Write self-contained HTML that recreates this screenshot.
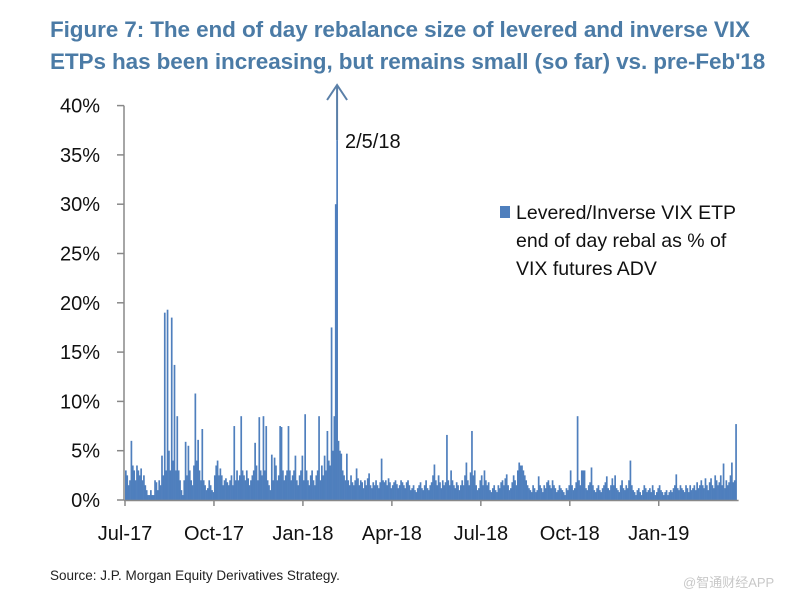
<!DOCTYPE html>
<html><head><meta charset="utf-8"><style>
html,body{margin:0;padding:0;background:#fff;}
body{width:800px;height:602px;overflow:hidden;position:relative;font-family:"Liberation Sans",Arial,sans-serif;}
.t{position:absolute;left:50px;font-weight:bold;font-size:22.5px;color:#4b7ba6;white-space:nowrap;letter-spacing:-0.1px;}
</style></head><body>
<div class="t" style="top:17px">Figure 7: The end of day rebalance size of levered and inverse VIX</div>
<div class="t" style="top:49px">ETPs has been increasing, but remains small (so far) vs. pre-Feb'18</div>
<svg id="chart" width="800" height="602" style="position:absolute;left:0;top:0"></svg>
<div style="position:absolute;left:50px;top:568px;font-size:13.5px;color:#222;">Source: J.P. Morgan Equity Derivatives Strategy.</div>
<div style="position:absolute;left:683px;top:572px;font-size:13px;color:#c8c8c8;font-family:'Liberation Sans','Noto Sans CJK SC',sans-serif;">@智通财经APP</div>
<script>
const values=[
3,2.5,1.5,2,6,3.5,3,2,3.5,3,2.5,3.2,2,2.5,1.5,1,0.5,0.5,1,0.5,
0.5,2,1.8,1,2,1.5,4.5,2.5,19,3,19.3,5,3,18.5,4,13.7,3,8.5,3,2,
1,0.5,2,5.9,2.5,5.5,3,2,1.5,3.5,10.8,4,6.1,3,2,7.2,2,1.5,1,1.2,
2,1.5,1,0.8,2.5,3.5,4,2.5,3.2,2.5,1.5,2,2.2,1.8,1.5,2,2.5,1.5,7.5,2,
3,2,2.5,8.5,3,2.5,2,3,2.2,1.5,2,2.5,3,5.8,3.5,2,8.4,3,2.5,8.5,
3,7.5,2,1.5,1,4.6,2,4.3,3.5,2,2.5,7.5,7.4,3,2,2.5,3,7.5,3,2,
2.5,3,4.5,2,1.5,2.5,3,4.5,2,8.7,3,2,1.5,2.5,3,2,1.5,2.5,3,8.5,
2,3.5,2.5,4.5,3,7,4,3.5,17.5,5,8.5,30,36.5,6,5,4.7,3,2.5,2,4.7,
2,1.5,2.5,1.8,1.5,2,3.2,2.2,1.5,2,1.8,1.2,2,1.5,2.2,2.7,1.5,1.2,1.8,1.5,
2,1.5,1.2,1.8,4.2,2,1.8,2,1.5,2.2,1.8,1.2,1.5,1.8,2,1.6,1.2,1.5,2,1.8,
1.5,1.2,1.8,2,1.5,1,1.2,1.5,1,0.8,1.2,1.5,1.8,1.2,1,1.5,2,1.2,1,1.5,
1.8,2.5,3.6,2,1.5,2.5,1.8,1.2,2,1.5,1.8,6.6,2,1.5,3,2,1.5,1.2,1.8,1.5,
1,1.5,2,1.5,2.5,3.8,2,1.5,2.8,7,2.5,3,1.5,1,1.2,2,2.5,1.5,3,2,
1.5,1.8,1,0.8,1.2,1.5,1,0.8,1.5,1.2,1.8,2,1.5,2.2,2.6,1.5,1,1.2,1.8,2.5,
2,1.5,3,3.8,3.5,3.5,3,2.5,2,1.5,1.2,1,0.8,1.5,1.2,0.8,1,2.4,1.5,1.2,
0.8,1.5,1.2,1.8,2,1.5,1.2,2,1.5,1.2,0.8,1,1.5,1.2,1,0.8,0.5,1.2,1,1.5,
3,1.5,1,1.2,1.8,8.5,2,1.5,3,3,3,1.2,1,1.5,1.8,3.3,1.5,1,0.8,1.2,
1.5,1,0.8,1.2,1.5,1.8,2.4,1.2,1,1.5,2.2,1.5,2.5,1.2,1,0.8,1.5,2,1.2,1,
1.5,1.2,2,4,1.5,1,0.8,0.5,1,1.2,0.8,0.5,1,1.5,1.2,0.8,1,1.2,0.8,1.5,
1,0.5,0.8,1.2,1.5,1,0.8,0.5,0.8,1,0.5,0.8,1,0.8,1.2,1.5,2.6,1.2,1,1.5,
1.2,1,0.8,1.5,1.2,0.8,1.5,1,1.2,1.5,1,1.8,1.2,1.5,2,1.5,1.2,2.2,1.5,1,
1.8,2.2,1.5,1.2,2.5,2,1.5,1.8,2.5,1.5,3.7,1.2,2,1.5,1.8,2.5,3.8,1.8,2,7.7];
const yTicks=[0,5,10,15,20,25,30,35,40];
const xLabels=["Jul-17","Oct-17","Jan-18","Apr-18","Jul-18","Oct-18","Jan-19"];
const xLabelIdx=[0,64,128,192,256,320,384];
const annotIdx=152;

const NS="http://www.w3.org/2000/svg";
const svg=document.getElementById('chart');
const X0=124,DX=1.39,Y0=500,PPU=9.86;
const xs=i=>X0+1+i*DX;
const ys=v=>Y0-v*PPU;
function mk(t,a,p){const e=document.createElementNS(NS,t);for(const k in a)e.setAttribute(k,a[k]);(p||svg).appendChild(e);return e;}
const bars=mk('g',{});


values.forEach((v,i)=>{
 const r=mk('rect',{x:xs(i),y:ys(v),width:1.7,height:v*PPU,fill:'#4f7fbd'},bars);
 
 
});
const ax=mk('line',{x1:X0,y1:ys(40),x2:X0,y2:Y0,stroke:'#888','stroke-width':1.5});


const bx=mk('line',{x1:X0,y1:Y0+0.5,x2:xs(values.length)+2,y2:Y0+0.5,stroke:'#888','stroke-width':1.5});


yTicks.forEach(v=>{
 const l=mk('line',{x1:X0-7,y1:ys(v),x2:X0,y2:ys(v),stroke:'#888','stroke-width':1.5});
 
 
 const t=mk('text',{x:100,y:ys(v)+7,'text-anchor':'end','font-size':20,fill:'#111','font-family':'Liberation Sans, Arial, sans-serif'});
 t.textContent=v+'%';
 
 
});
xLabels.forEach((s,k)=>{
 const x=xs(xLabelIdx[k]);
 const l=mk('line',{x1:x,y1:Y0,x2:x,y2:Y0+6,stroke:'#888','stroke-width':1.5});
 
 
 const t=mk('text',{x:x,y:540,'text-anchor':'middle','font-size':20,fill:'#111','font-family':'Liberation Sans, Arial, sans-serif'});
 t.textContent=s;
 
 
});
const ax2=xs(annotIdx)+0.8;
const arr=mk('path',{d:`M${ax2} ${ys(values[annotIdx])} L${ax2} 85 M${ax2-10} 100 L${ax2} 85 L${ax2+10} 100`,stroke:'#5a7fa8','stroke-width':2,fill:'none'});


const at=mk('text',{x:345,y:148,'font-size':20,fill:'#111','font-family':'Liberation Sans, Arial, sans-serif'});
at.textContent='2/5/18';


const lg=mk('rect',{x:500,y:206,width:10,height:12,fill:'#4f7fbd'});


["Levered/Inverse VIX ETP","end of day rebal as % of","VIX futures ADV"].forEach((s,k)=>{
 const t=mk('text',{x:516,y:219+k*28,'font-size':19.5,fill:'#111','font-family':'Liberation Sans, Arial, sans-serif'});
 t.textContent=s;
 
 
});
</script>
</body></html>
